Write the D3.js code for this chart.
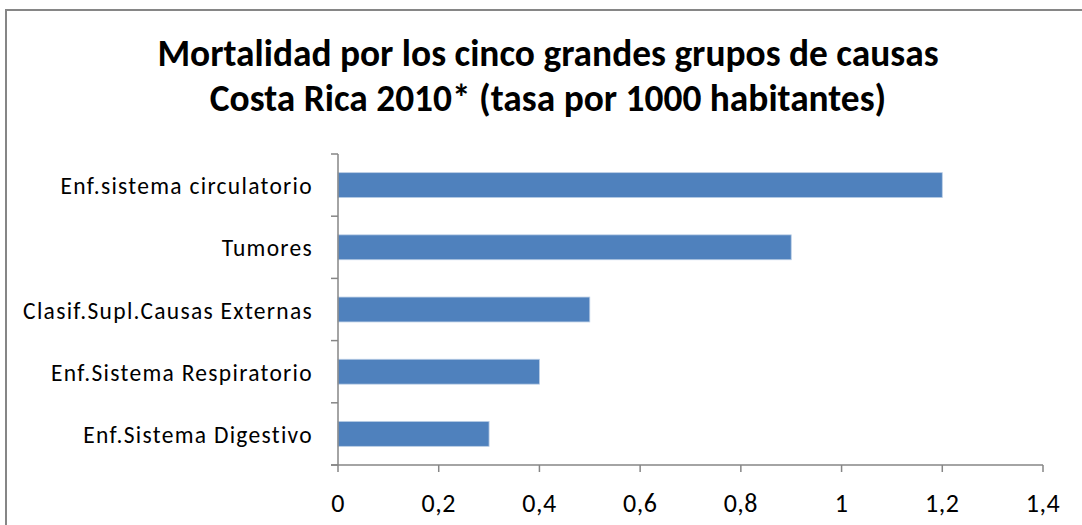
<!DOCTYPE html>
<html><head><meta charset="utf-8">
<script src="https://cdn.jsdelivr.net/npm/d3@7"></script>
<style>body{margin:0;background:#fff}svg{display:block}</style>
</head><body>
<svg id="c" width="1082" height="525"></svg>
<script>
const categories = ["Enf.sistema circulatorio","Tumores","Clasif.Supl.Causas Externas","Enf.Sistema Respiratorio","Enf.Sistema Digestivo"];
const values = [1.2, 0.9, 0.5, 0.4, 0.3];
const xTicks = [0, 0.2, 0.4, 0.6, 0.8, 1, 1.2, 1.4];
const titleLines = ["Mortalidad por los cinco grandes grupos de causas","Costa Rica 2010* (tasa por 1000 habitantes)"];

const svg = d3.select("#c");
const font = "Carlito, Calibri, Lato, 'Open Sans', sans-serif";
svg.append("rect").attr("x",6).attr("y",10).attr("width",1200).attr("height",700)
  .attr("fill","#fff").attr("stroke","#868686").attr("stroke-width",2);

svg.selectAll("text.title").data(titleLines).join("text").attr("class","title")
  .attr("x",548).attr("y",(d,i)=>66+i*45).attr("text-anchor","middle")
  .attr("font-family",font).attr("font-weight","bold").attr("font-size",37.4).attr("fill","#000").text(d=>d);

const x = d3.scaleLinear().domain([0,1.4]).range([338,1043]);
const y = d3.scaleBand().domain(categories).range([154,465]).paddingInner(0.6).paddingOuter(0.3);
const yb = d3.scaleBand().domain(categories).range([154,465]);

svg.selectAll("rect.bar").data(values).join("rect").attr("class","bar")
  .attr("x",x(0)).attr("y",(d,i)=>y(categories[i])).attr("width",d=>x(d)-x(0)).attr("height",y.bandwidth())
  .attr("fill","#4F81BD").attr("stroke","#B9CDE5").attr("stroke-width",0.8);

const ax = "#868686";
svg.append("line").attr("x1",338).attr("x2",338).attr("y1",154).attr("y2",465).attr("stroke",ax).attr("stroke-width",1.5);
const yt = categories.map(c=>yb(c)).concat([465]);
svg.selectAll("line.yt").data(yt).join("line").attr("class","yt")
  .attr("x1",331).attr("x2",338).attr("y1",d=>d).attr("y2",d=>d).attr("stroke",ax).attr("stroke-width",1.5);
svg.selectAll("text.yl").data(categories).join("text").attr("class","yl")
  .attr("x",313).attr("y",d=>yb(d)+yb.bandwidth()/2+9).attr("text-anchor","end")
  .attr("font-family",font).attr("font-size",23.5).attr("letter-spacing",1.3).attr("fill","#000").text(d=>d);

svg.append("line").attr("x1",331).attr("x2",x(1.4)).attr("y1",465).attr("y2",465).attr("stroke",ax).attr("stroke-width",1.5);
svg.selectAll("line.xt").data(xTicks).join("line").attr("class","xt")
  .attr("x1",d=>x(d)).attr("x2",d=>x(d)).attr("y1",465).attr("y2",472).attr("stroke",ax).attr("stroke-width",1.5);
svg.selectAll("text.xl").data(xTicks).join("text").attr("class","xl")
  .attr("x",d=>x(d)).attr("y",512).attr("text-anchor","middle")
  .attr("font-family",font).attr("font-size",26).attr("letter-spacing",0.5).attr("fill","#000").text(d=>String(d).replace(".",","));
</script>
</body></html>
